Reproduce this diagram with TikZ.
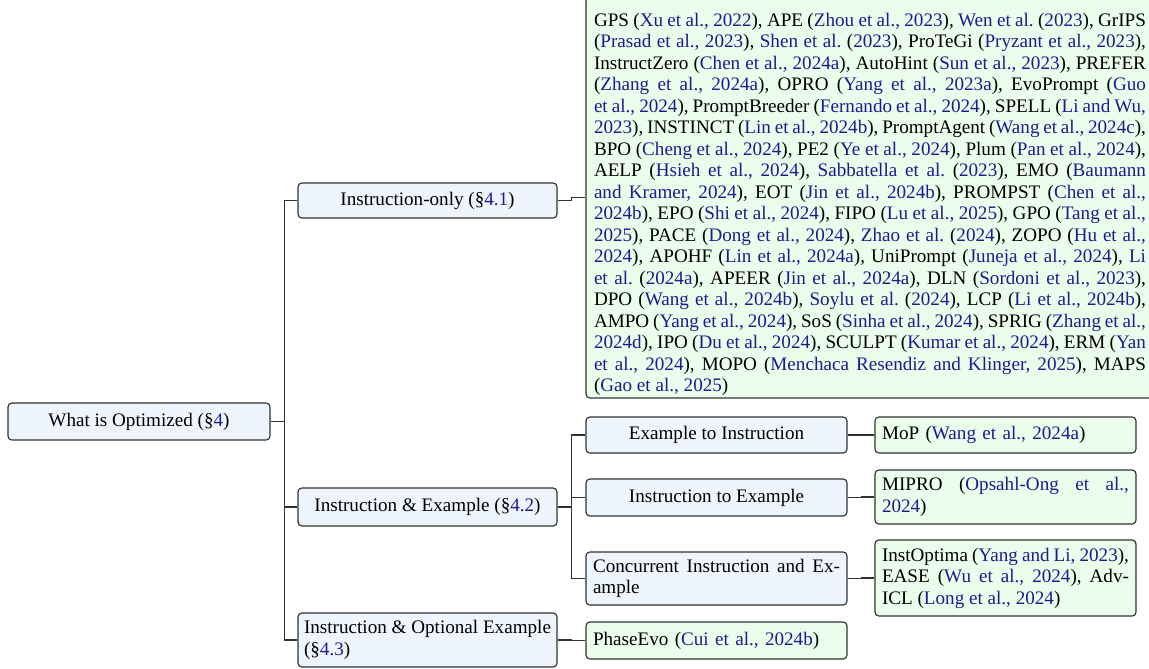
\documentclass[tikz,border=0pt]{standalone}
\usepackage{fontspec}
\setmainfont{Liberation Serif}
\definecolor{citec}{RGB}{28,28,145}
\definecolor{bluefill}{RGB}{238,245,253}
\definecolor{greenfill}{RGB}{235,253,235}
\definecolor{edgecol}{RGB}{50,50,50}
\newcommand\cp[1]{({\color{citec}#1})}
\newcommand\ct[2]{{\color{citec}#1} ({\color{citec}#2})}
\newcommand\sref[1]{(§{\color{citec}#1})}
\frenchspacing
\begin{document}
\begin{tikzpicture}[x=0.523pt,y=-0.523pt,
  font=\fontsize{10}{11.25}\selectfont,
  box/.style={draw=edgecol, rounded corners=2pt, line width=0.6pt, inner xsep=7*0.523pt, inner ysep=2pt},
  bnode/.style={box, fill=bluefill},
  gnode/.style={box, fill=greenfill},
  conn/.style={draw=edgecol, line width=0.7pt}]
\useasboundingbox (0,0) rectangle (1149,668);

% root
\node[bnode, minimum width=262*0.523pt, minimum height=37*0.523pt, align=center] (root) at (139,421.5) {What is Optimized \sref{4}};

% level 1
\node[bnode, minimum width=259*0.523pt, minimum height=35*0.523pt, align=center] (io) at (427.5,200.5) {Instruction-only \sref{4.1}};
\node[bnode, minimum width=259*0.523pt, minimum height=38*0.523pt, align=center] (ie) at (427.5,507) {Instruction \& Example \sref{4.2}};
\node[bnode, minimum width=259*0.523pt, minimum height=54*0.523pt, inner xsep=4*0.523pt, align=left] (ioe) at (427.5,640) {Instruction \& Optional Example\\\sref{4.3}};

% big leaf: box and its text
\node[gnode, minimum width=568*0.523pt, minimum height=401*0.523pt] (iol) at (870,197.5) {};
\node[text width=552*0.523pt, inner sep=0pt, align=justify] (ioltext) at (870,204.5) {GPS \cp{Xu et al., 2022}, APE \cp{Zhou et al., 2023}, \ct{Wen et al.}{2023}, GrIPS\linebreak
\cp{Prasad et al., 2023}, \ct{Shen et al.}{2023}, ProTeGi \cp{Pryzant et al., 2023},\linebreak
InstructZero \cp{Chen et al., 2024a}, AutoHint \cp{Sun et al., 2023}, PREFER\linebreak
\cp{Zhang et al., 2024a}, OPRO \cp{Yang et al., 2023a}, EvoPrompt ({\color{citec}Guo\linebreak
et al., 2024}), PromptBreeder \cp{Fernando et al., 2024}, SPELL ({\color{citec}Li and Wu,\linebreak
2023}), INSTINCT \cp{Lin et al., 2024b}, PromptAgent \cp{Wang et al., 2024c},\linebreak
BPO \cp{Cheng et al., 2024}, PE2 \cp{Ye et al., 2024}, Plum \cp{Pan et al., 2024},\linebreak
AELP \cp{Hsieh et al., 2024}, \ct{Sabbatella et al.}{2023}, EMO ({\color{citec}Baumann\linebreak
and Kramer, 2024}), EOT \cp{Jin et al., 2024b}, PROMPST ({\color{citec}Chen et al.,\linebreak
2024b}), EPO \cp{Shi et al., 2024}, FIPO \cp{Lu et al., 2025}, GPO ({\color{citec}Tang et al.,\linebreak
2025}), PACE \cp{Dong et al., 2024}, \ct{Zhao et al.}{2024}, ZOPO ({\color{citec}Hu et al.,\linebreak
2024}), APOHF \cp{Lin et al., 2024a}, UniPrompt \cp{Juneja et al., 2024}, {\color{citec}Li\linebreak
et al.} ({\color{citec}2024a}), APEER \cp{Jin et al., 2024a}, DLN \cp{Sordoni et al., 2023},\linebreak
DPO \cp{Wang et al., 2024b}, \ct{Soylu et al.}{2024}, LCP \cp{Li et al., 2024b},\linebreak
AMPO \cp{Yang et al., 2024}, SoS \cp{Sinha et al., 2024}, SPRIG ({\color{citec}Zhang et al.,\linebreak
2024d}), IPO \cp{Du et al., 2024}, SCULPT \cp{Kumar et al., 2024}, ERM ({\color{citec}Yan\linebreak
et al., 2024}), MOPO \cp{Menchaca Resendiz and Klinger, 2025}, MAPS\linebreak
\cp{Gao et al., 2025}};

% level 2
\node[bnode, minimum width=261*0.523pt, minimum height=36*0.523pt, align=center] (ei) at (716.5,435) {Example to Instruction};
\node[bnode, minimum width=261*0.523pt, minimum height=37*0.523pt, align=center] (ite) at (716.5,497.5) {Instruction to Example};
\node[bnode, text width=247*0.523pt, minimum height=53*0.523pt, align=justify] (cie) at (716.5,578.5) {Concurrent Instruction and Ex-\linebreak ample};
\node[gnode, text width=247*0.523pt, minimum height=37*0.523pt, align=left] (pe) at (716.5,640.5) {PhaseEvo \cp{Cui et al., 2024b}};

% leaves
\node[gnode, text width=247*0.523pt, minimum height=36*0.523pt, align=left] (mop) at (1005.5,435) {MoP \cp{Wang et al., 2024a}};
\node[gnode, text width=247*0.523pt, minimum height=54*0.523pt, align=justify] (mipro) at (1005.5,497) {MIPRO ({\color{citec}Opsahl-Ong et al.,\linebreak 2024})};
\node[gnode, text width=247*0.523pt, minimum height=76*0.523pt, align=justify] (instopt) at (1005.5,578) {InstOptima \cp{Yang and Li, 2023},\linebreak EASE \cp{Wu et al., 2024}, Adv-\linebreak ICL \cp{Long et al., 2024}};

% connectors
\draw[conn] (root.east) -- ++(14,0) |- (io.west);
\draw[conn] (root.east) -- ++(14,0) |- (ie.west);
\draw[conn] (root.east) -- ++(14,0) |- (ioe.west);
\draw[conn] (io.east) -- ++(14,0) |- (iol.west);
\draw[conn] (ie.east) -- ++(14,0) |- (ei.west);
\draw[conn] (ie.east) -- ++(14,0) |- (ite.west);
\draw[conn] (ie.east) -- ++(14,0) |- (cie.west);
\draw[conn] (ioe.east) -- ++(14,0) |- (pe.west);
\draw[conn] (ei.east) -- ++(14,0) |- (mop.west);
\draw[conn] (ite.east) -- ++(14,0) |- (mipro.west);
\draw[conn] (cie.east) -- ++(14,0) |- (instopt.west);
\end{tikzpicture}
\end{document}
